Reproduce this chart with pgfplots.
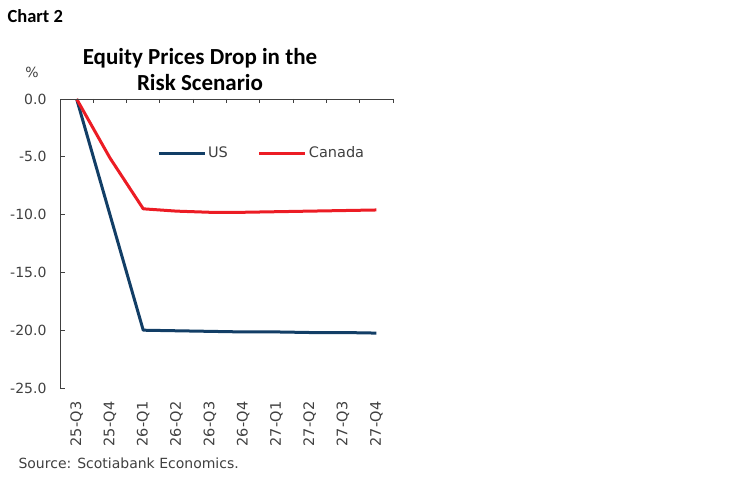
\documentclass[border=0pt]{standalone}
\usepackage{pgfplots}
\pgfplotsset{compat=1.18}
\usepackage{fontspec}
\setmainfont{DejaVu Sans}
\newfontfamily\titlefont{Carlito}
\definecolor{usblue}{RGB}{18,62,102}
\definecolor{canred}{RGB}{236,28,36}
\definecolor{axisgray}{RGB}{64,64,64}

\begin{document}
\begin{tikzpicture}
\useasboundingbox (0,0) rectangle (749pt,482pt);
\begin{axis}[
  at={(60pt,94pt)}, anchor=south west,
  scale only axis, width=333pt, height=289pt,
  xmin=-0.5, xmax=9.5, ymin=-25, ymax=0,
  axis y line*=left, axis x line*=bottom,
  x axis line style={draw=none},
  y axis line style={axisgray, line width=0.9pt},
  xtick={0,...,9},
  xticklabels={25-Q3,25-Q4,26-Q1,26-Q2,26-Q3,26-Q4,27-Q1,27-Q2,27-Q3,27-Q4},
  xtick style={draw=none},
  xticklabel style={rotate=90, anchor=east, font=\fontsize{14.5}{16}\selectfont, text=axisgray, xshift=-10pt},
  ytick={-25,-20,...,0},
  ytick align=inside,
  ytick style={axisgray, line width=0.9pt},
  major tick length=5pt,
  yticklabel style={font=\fontsize{14}{16}\selectfont, text=axisgray, xshift=-10pt,
    /pgf/number format/.cd, fixed, fixed zerofill, precision=1, assume math mode=true},
  legend style={at={(rel axis cs:0.291,0.813)}, anchor=west, draw=none, fill=none,
    inner sep=0pt, font=\fontsize{14.5}{16}\selectfont, text=axisgray,
    legend columns=2, /tikz/every even column/.append style={column sep=28pt}},
  legend image code/.code={\draw[#1] (0pt,0pt) -- (46pt,0pt);},
  clip=false,
]
\addplot[usblue, line width=3pt, line join=round] coordinates {
  (0,0) (1,-10.0) (2,-20.0) (3,-20.05) (4,-20.1) (5,-20.15) (6,-20.15) (7,-20.2) (8,-20.2) (9,-20.25)};
\addlegendentry{US}
\addplot[canred, line width=3pt, line join=round] coordinates {
  (0,0) (1,-5.1) (2,-9.5) (3,-9.7) (4,-9.8) (5,-9.8) (6,-9.75) (7,-9.7) (8,-9.65) (9,-9.6)};
\addlegendentry{Canada}
\draw[axisgray, line width=0.9pt] (axis cs:-0.5,0) -- (axis cs:9.5,0);
\pgfplotsinvokeforeach{0.5,1.5,2.5,3.5,4.5,5.5,6.5,7.5,8.5,9.5}{
  \draw[axisgray, line width=0.9pt] (axis cs:#1,0) -- ++(0pt,-4pt);
}
\end{axis}
\node[anchor=west, font=\titlefont\bfseries\fontsize{18.5}{20}\selectfont] at (4pt,466pt) {Chart 2};
\node[align=center, font=\titlefont\bfseries\fontsize{23}{26}\selectfont] at (200pt,412pt) {Equity Prices Drop in the\\Risk Scenario};
\node[font=\fontsize{14}{16}\selectfont, text=axisgray] at (32pt,410pt) {\%};
\node[anchor=west, font=\fontsize{14}{16}\selectfont, text=axisgray] at (15pt,19pt) {Source: Scotiabank Economics.};
\end{tikzpicture}
\end{document}
